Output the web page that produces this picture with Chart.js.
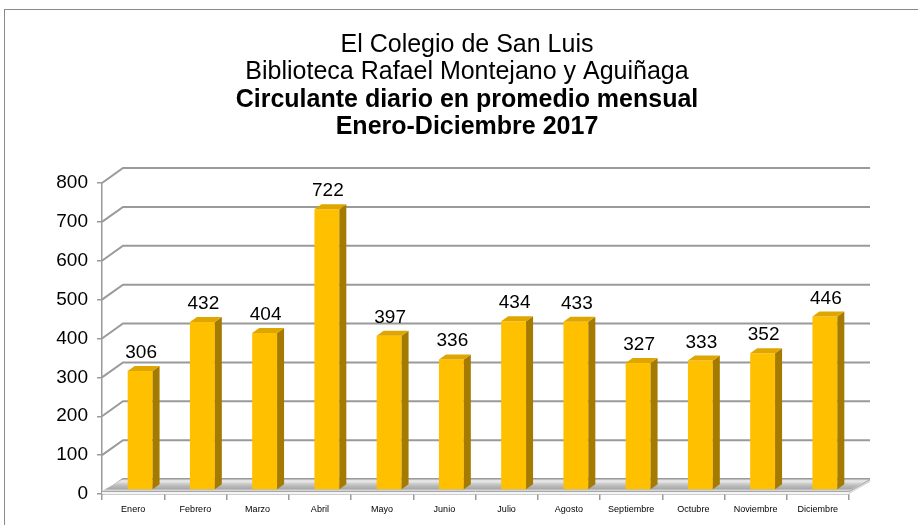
<!DOCTYPE html>
<html><head><meta charset="utf-8">
<script src="https://cdn.jsdelivr.net/npm/chart.js@4/dist/chart.umd.min.js"></script>
<style>html,body{margin:0;padding:0;background:#fff}#c{display:block}</style>
</head><body>
<canvas id="c" width="918" height="525"></canvas>
<script>
const titleLines = ['El Colegio de San Luis', 'Biblioteca Rafael Montejano y Aguiñaga'];
const subtitleLines = ['Circulante diario en promedio mensual', 'Enero-Diciembre 2017'];
const months = ['Enero','Febrero','Marzo','Abril','Mayo','Junio','Julio','Agosto','Septiembre','Octubre','Noviembre','Diciembre'];
const circulante = [306, 432, 404, 722, 397, 336, 434, 433, 327, 333, 352, 446];
const yTicks = [0, 100, 200, 300, 400, 500, 600, 700, 800];

const FONT = "'Liberation Sans', Arial, sans-serif";
const DEPTH_X = 21, DEPTH_Y = -15;      // back wall offset
const SHIFT_X = 7, SHIFT_Y = -4;        // bar front-face depth position
const BAR_DX = 7, BAR_DY = -5;          // bar depth
const GRID = '#9a9a9a';

const plugin3d = {
  id: 'p3d',
  beforeDraw(chart) {
    const ctx = chart.ctx;
    ctx.save();
    ctx.strokeStyle = '#8a8a8a';
    ctx.lineWidth = 1;
    ctx.strokeRect(4.5, 9.5, 940, 540);
    ctx.restore();
  },
  beforeDatasetsDraw(chart) {
    const ctx = chart.ctx, ys = chart.scales.y, area = chart.chartArea;
    const L = area.left, R = area.right;
    ctx.save();
    ctx.strokeStyle = GRID;
    ctx.lineWidth = 2;
    yTicks.forEach(v => {
      const py = ys.getPixelForValue(v);
      ctx.beginPath();
      ctx.moveTo(L, py);
      ctx.lineTo(L + DEPTH_X, py + DEPTH_Y);
      ctx.lineTo(R + DEPTH_X, py + DEPTH_Y);
      ctx.stroke();
    });
    const y0 = ys.getPixelForValue(0);
    const ft = y0 - 3;
    ctx.beginPath();
    ctx.moveTo(L, ft);
    ctx.lineTo(R, ft);
    ctx.lineTo(R + DEPTH_X, y0 + DEPTH_Y);
    ctx.lineTo(L + DEPTH_X, y0 + DEPTH_Y);
    ctx.closePath();
    const g = ctx.createLinearGradient(0, y0 + DEPTH_Y, 0, ft);
    g.addColorStop(0, '#a8a8a8');
    g.addColorStop(0.15, '#eeeeee');
    g.addColorStop(0.5, '#c0c0c0');
    g.addColorStop(0.8, '#aaaaaa');
    g.addColorStop(1, '#e0e0e0');
    ctx.fillStyle = g;
    ctx.fill();
    ctx.fillStyle = '#f4f4f4';
    ctx.fillRect(L, ft, R - L, 3);
    ctx.beginPath();
    ctx.moveTo(R, ft); ctx.lineTo(R + DEPTH_X, y0 + DEPTH_Y);
    ctx.lineTo(R + DEPTH_X, y0 + DEPTH_Y + 3); ctx.lineTo(R, y0);
    ctx.closePath();
    ctx.fillStyle = '#d8d8d8'; ctx.fill();
    ctx.strokeStyle = '#a8a8a8'; ctx.lineWidth = 1;
    ctx.beginPath();
    ctx.moveTo(L, ft + 0.5); ctx.lineTo(R, ft + 0.5); ctx.lineTo(R + DEPTH_X, y0 + DEPTH_Y + 0.5);
    ctx.stroke();
    ctx.restore();
    ctx.save();
    ctx.translate(SHIFT_X, SHIFT_Y);
  },
  afterDatasetsDraw(chart) {
    const ctx = chart.ctx;
    const meta = chart.getDatasetMeta(0);
    meta.data.forEach((el, i) => {
      const p = el.getProps(['x', 'y', 'base', 'width'], true);
      const x0 = p.x - p.width / 2, x1 = p.x + p.width / 2;
      ctx.beginPath();
      ctx.moveTo(x1, p.y); ctx.lineTo(x1 + BAR_DX, p.y + BAR_DY);
      ctx.lineTo(x1 + BAR_DX, p.base + BAR_DY); ctx.lineTo(x1, p.base);
      ctx.closePath();
      ctx.fillStyle = '#a47a00'; ctx.fill();
      ctx.beginPath();
      ctx.moveTo(x0, p.y); ctx.lineTo(x1, p.y);
      ctx.lineTo(x1 + BAR_DX, p.y + BAR_DY); ctx.lineTo(x0 + BAR_DX, p.y + BAR_DY);
      ctx.closePath();
      ctx.fillStyle = '#dfa600'; ctx.fill();
      ctx.fillStyle = '#000';
      ctx.font = '19px ' + FONT;
      ctx.textAlign = 'center';
      ctx.textBaseline = 'alphabetic';
      ctx.fillText(String(circulante[i]), p.x + 1, p.y - 13);
    });
    ctx.restore();
  }
};

new Chart(document.getElementById('c'), {
  type: 'bar',
  data: {
    labels: months,
    datasets: [{
      data: circulante,
      backgroundColor: '#ffc000',
      borderWidth: 0,
      categoryPercentage: 1,
      barPercentage: 0.40
    }]
  },
  options: {
    responsive: false,
    devicePixelRatio: 1,
    animation: false,
    layout: { padding: { left: 16, right: 0, top: 31, bottom: 0 } },
    plugins: {
      legend: { display: false },
      tooltip: { enabled: false },
      title: {
        display: true, text: titleLines, color: '#000',
        font: { family: FONT, size: 25, weight: 'normal', lineHeight: 1.1 },
        padding: { top: 0, bottom: 0 }
      },
      subtitle: {
        display: true, text: subtitleLines, color: '#000',
        font: { family: FONT, size: 25, weight: 'bold', lineHeight: 1.1 },
        padding: { top: 0, bottom: 42 }
      }
    },
    scales: {
      x: {
        offset: true,
        grid: { display: true, drawOnChartArea: false, drawTicks: true, tickLength: 6, offset: true, color: GRID, lineWidth: 1.5 },
        border: { display: true, color: GRID, width: 1.5 },
        ticks: { color: '#000', font: { family: FONT, size: 9 }, padding: 4, maxRotation: 0, autoSkip: false },
        afterFit(s) { s.height = 31; }
      },
      y: {
        min: 0, max: 800,
        afterBuildTicks(s) { s.ticks = yTicks.map(v => ({ value: v })); },
        grid: { display: true, drawOnChartArea: false, drawTicks: true, tickLength: 5, color: GRID, lineWidth: 1.5 },
        border: { display: true, color: GRID, width: 1.5 },
        ticks: { color: '#000', font: { family: FONT, size: 19 }, padding: 9 },
        afterFit(s) { s.width = 86; }
      },
      y2: {
        position: 'right', display: true, min: 0, max: 800,
        grid: { display: false }, border: { display: false },
        ticks: { display: false },
        afterFit(s) { s.width = 69; }
      }
    }
  },
  plugins: [plugin3d]
});
</script>
</body></html>
